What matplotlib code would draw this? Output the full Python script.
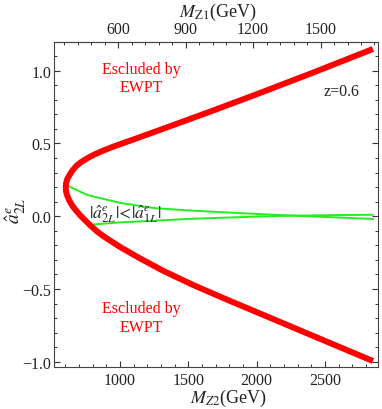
import matplotlib
matplotlib.use("Agg")
import matplotlib.pyplot as plt
from matplotlib.ticker import MultipleLocator

plt.rcParams['font.family'] = ['Liberation Serif', 'DejaVu Serif']
plt.rcParams['mathtext.fontset'] = 'stix'

# Red boundary (excluded by EWPT), M_Z2 in GeV vs a_2L
red_m = [2851, 2400, 2000, 1658, 1395, 1260, 1127, 1040, 956, 880, 810, 760, 712, 680, 651,
         635, 614, 605, 603, 605, 614, 630, 651, 680, 712, 750, 785, 830, 883, 940, 1005,
         1151, 1322, 1541, 1800, 2000, 2400, 2851]
red_a = [1.149, 0.982, 0.838, 0.718, 0.628, 0.582, 0.537, 0.508, 0.480, 0.452, 0.423, 0.398,
         0.370, 0.345, 0.313, 0.290, 0.256, 0.225, 0.199, 0.170, 0.141, 0.105, 0.072, 0.037,
         0.003, -0.033, -0.065, -0.103, -0.140, -0.175, -0.214, -0.292, -0.378, -0.475,
         -0.580, -0.659, -0.817, -0.995]

# Green curves |a2L| < |a1L|
g1_m = [614, 761, 883, 1005, 1249, 1492, 1761, 1950, 2266, 2600, 2851]
g1_a = [0.210, 0.146, 0.118, 0.091, 0.056, 0.040, 0.027, 0.018, 0.004, -0.009, -0.019]
g2_m = [761, 1005, 1249, 1492, 1761, 1950, 2266, 2600, 2851]
g2_a = [-0.060, -0.042, -0.031, -0.019, -0.010, -0.004, 0.004, 0.008, 0.010]

ratio = 1.645  # M_Z2 / M_Z1

xticks = [1000, 1500, 2000, 2500]
top_ticks = [600, 900, 1200, 1500]
yticks = [-1.0, -0.5, 0.0, 0.5, 1.0]
ytick_labels = ['\u22121.0', '\u22120.5', '0.0', '0.5', '1.0']

W, H = 382, 410
fig = plt.figure(figsize=(W / 100, H / 100), dpi=100)
ax = fig.add_axes([54 / W, 1 - 368 / H, (378 - 54) / W, (368 - 43) / H])

ax.plot(g1_m, g1_a, color='#22ee22', lw=1.4, zorder=2)
ax.plot(g2_m, g2_a, color='#22ee22', lw=1.4, zorder=2)
ax.plot(red_m, red_a, color='#ff0000', lw=4.3, zorder=3, solid_capstyle='butt',
        solid_joinstyle='round')

ax.set_xlim(517, 2888)
ax.set_ylim(-1.036, 1.197)
ax.set_xticks(xticks)
ax.set_yticks(yticks)
ax.set_yticklabels(ytick_labels)
ax.xaxis.set_minor_locator(MultipleLocator(100))
ax.yaxis.set_minor_locator(MultipleLocator(0.1))
ax.tick_params(which='both', direction='in', right=True, top=False, labelsize=11.5,
               colors='#333333', labelcolor='#222222')
ax.tick_params(axis='y', pad=2)
ax.tick_params(which='major', length=4, width=0.8)
ax.tick_params(which='minor', length=2.2, width=0.7)
for s in ax.spines.values():
    s.set_color('#444444')
    s.set_linewidth(0.8)

sec = ax.secondary_xaxis('top', functions=(lambda x: x / ratio, lambda x: x * ratio))
sec.set_xticks(top_ticks)
sec.xaxis.set_minor_locator(MultipleLocator(60))
sec.tick_params(which='both', direction='in', labelsize=11.5, colors='#333333',
                labelcolor='#222222')
sec.tick_params(which='major', length=4, width=0.8)
sec.tick_params(which='minor', length=2.2, width=0.7)
sec.spines['top'].set_color('#444444')
sec.spines['top'].set_linewidth(0.8)

fig.text(218 / W, 1 - 12 / H, r'$M_{\rm Z1}$(GeV)', fontsize=13, ha='center', va='center',
         color='#222222')
fig.text(228 / W, 1 - 398 / H, r'$M_{Z2}$(GeV)', fontsize=13, ha='center', va='center',
         color='#222222')
fig.text(16 / W, 1 - 211 / H, r'$\hat{a}^e_{2L}$', fontsize=14, ha='center', va='center',
         rotation=90, color='#222222')

ax.text(0.268, 0.89, 'Escluded by\nEWPT', transform=ax.transAxes, color='#ff0000',
        fontsize=11.5, ha='center', va='center', linespacing=1.2)
ax.text(0.268, 0.152, 'Escluded by\nEWPT', transform=ax.transAxes, color='#ff0000',
        fontsize=11.5, ha='center', va='center', linespacing=1.2)
ax.text(0.886, 0.849, 'z=0.6', transform=ax.transAxes, color='#222222', fontsize=11.5,
        ha='center', va='center')
ax.text(1036, 0.022, r'$|\hat{a}^e_{2L}|\!<\!|\hat{a}^e_{1L}|$', color='#222222',
        fontsize=12.5, ha='center', va='center', zorder=4)

fig.savefig('out.png', dpi=100)
